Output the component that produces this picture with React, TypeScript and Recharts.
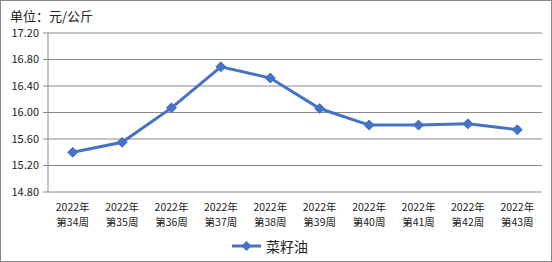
import { CartesianGrid, Legend, Line, LineChart, XAxis, YAxis } from "recharts";

const years = ["2022年", "2022年", "2022年", "2022年", "2022年", "2022年", "2022年", "2022年", "2022年", "2022年"];
const weeks = ["第34周", "第35周", "第36周", "第37周", "第38周", "第39周", "第40周", "第41周", "第42周", "第43周"];
const rapeseedOil = [15.4, 15.55, 16.07, 16.69, 16.52, 16.06, 15.81, 15.81, 15.83, 15.74];
const yTicks = [14.8, 15.2, 15.6, 16.0, 16.4, 16.8, 17.2];
const edgeTicks = [0, 1, 2, 3, 4, 5, 6, 7, 8, 9, 10];

const data = weeks.map((w, i) => ({ label: years[i] + w, price: rapeseedOil[i] }));

const BLUE = "#4472C4";
const GRID = "#898989";
const FONT = '"Noto Sans CJK SC", "Noto Sans", sans-serif';

function Diamond(props: any) {
  const { cx, cy } = props;
  if (cx == null || cy == null) return null;
  const r = 5;
  return (
    <polygon
      points={`${cx},${cy - r} ${cx + r},${cy} ${cx},${cy + r} ${cx - r},${cy}`}
      fill={BLUE}
      stroke={BLUE}
    />
  );
}

function WeekTick(props: any) {
  const { x, y, index } = props;
  return (
    <g fontSize={10.5} fill="#222" fontFamily={FONT}>
      <text x={x} y={y + 14} textAnchor="middle" dominantBaseline="central">{years[index]}</text>
      <text x={x} y={y + 29} textAnchor="middle" dominantBaseline="central">{weeks[index]}</text>
    </g>
  );
}

function LegendBox() {
  return (
    <div style={{ display: "flex", alignItems: "center", height: 31, paddingLeft: 231, fontFamily: FONT }}>
      <svg width={29} height={12}>
        <line x1={0} y1={6} x2={29} y2={6} stroke={BLUE} strokeWidth={3} />
        <polygon points="14.5,1 19.5,6 14.5,11 9.5,6" fill={BLUE} />
      </svg>
      <span style={{ fontSize: 14, marginLeft: 5, color: "#222" }}>菜籽油</span>
    </div>
  );
}

export default function App() {
  return (
    <div
      style={{
        position: "fixed",
        left: 0,
        top: 0,
        width: 552,
        height: 262,
        boxSizing: "border-box",
        border: `1px solid ${GRID}`,
        background: "#fff",
        fontFamily: FONT,
      }}
    >
      <div style={{ position: "absolute", left: 9, top: 4.5, fontSize: 13, lineHeight: "19px", color: "#222" }}>
        单位：元/公斤
      </div>
      <LineChart width={550} height={260} data={data} margin={{ top: 32, right: 9, bottom: 0, left: 0 }}>
        <CartesianGrid vertical={false} stroke={GRID} />
        <XAxis
          xAxisId="edge"
          type="number"
          domain={[0, 10]}
          ticks={edgeTicks}
          interval={0}
          tick={false}
          tickSize={5}
          height={0}
          axisLine={{ stroke: GRID }}
          tickLine={{ stroke: GRID }}
        />
        <XAxis
          dataKey="label"
          scale="band"
          interval={0}
          height={38}
          axisLine={false}
          tickLine={false}
          tickSize={0}
          tickMargin={0}
          tick={<WeekTick />}
        />
        <YAxis
          width={47}
          domain={[14.8, 17.2]}
          ticks={yTicks}
          interval={0}
          tickSize={5}
          tickMargin={4}
          tickFormatter={(v: number) => v.toFixed(2)}
          tick={{ fontSize: 11, fill: "#222", fontFamily: FONT }}
          axisLine={{ stroke: GRID }}
          tickLine={{ stroke: GRID }}
        />
        <Legend verticalAlign="bottom" content={<LegendBox />} />
        <Line
          dataKey="price"
          name="菜籽油"
          stroke={BLUE}
          strokeWidth={3}
          dot={<Diamond />}
          activeDot={false}
          isAnimationActive={false}
        />
      </LineChart>
    </div>
  );
}
